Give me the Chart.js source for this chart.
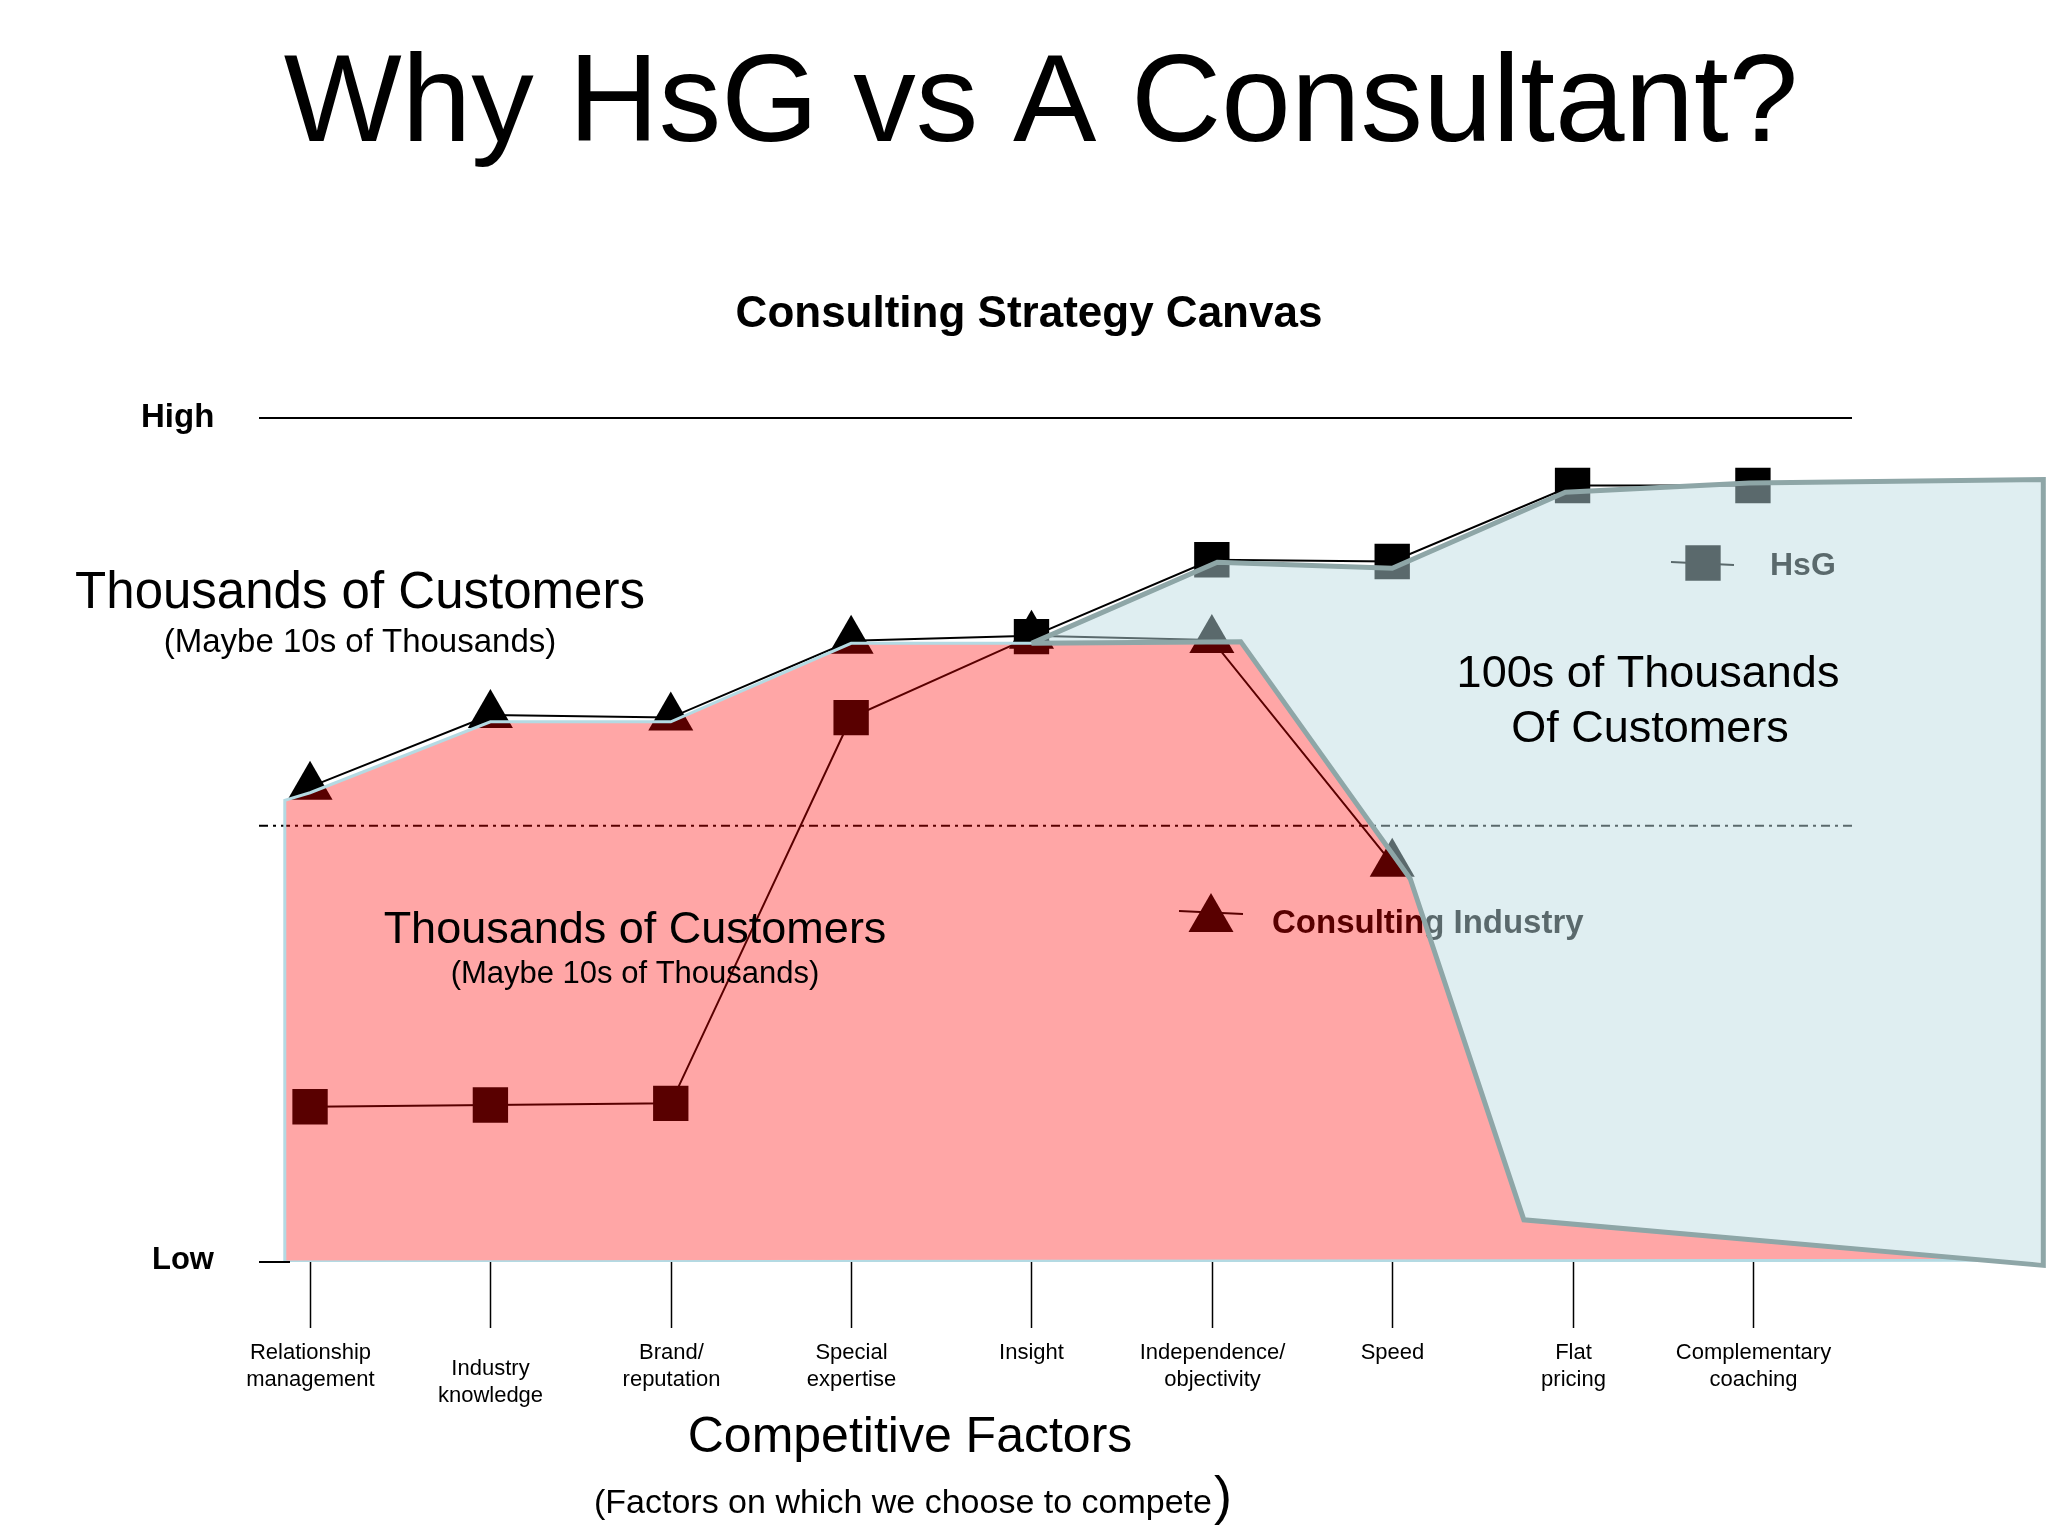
<!DOCTYPE html>
<html>
<head>
<meta charset="utf-8">
<title>Why HsG vs A Consultant?</title>
<script src="https://cdn.jsdelivr.net/npm/chart.js@4.4.0/dist/chart.umd.min.js"></script>
<style>
  html, body { margin: 0; padding: 0; background: #fff; }
  #wrap { width: 2048px; height: 1536px; }
</style>
</head>
<body>
<div id="wrap"><canvas id="canvasChart" width="2048" height="1536"></canvas></div>
<script>
// competitive factors (x axis, one per index)
const factorLabels = [
    ['Relationship', 'management'],
    ['Industry', 'knowledge'],
    ['Brand/', 'reputation'],
    ['Special', 'expertise'],
    ['Insight'],
    ['Independence/', 'objectivity'],
    ['Speed'],
    ['Flat', 'pricing'],
    ['Complementary', 'coaching']
];

// scores, 0 = Low, 10 = High
const hsgScores = [1.84, 1.86, 1.88, 6.45, 7.41, 8.32, 8.30, 9.20, 9.20];
const consultingScores = [5.63, 6.48, 6.45, 7.36, 7.42, 7.37, 4.72];

// shaded regions (x in factor index units, y in score units)
const consultingAreaX = [-0.14, -0.14, 0, 1, 2, 3, 4, 5.16, 6.10, 6.73, 9.29, -0.14];
const consultingAreaY = [0, 5.47, 5.56, 6.40, 6.40, 7.33, 7.33, 7.35, 4.54, 0.50, 0.02, 0];
const hsgAreaX = [4, 5.03, 6.0, 6.96, 7.98, 9.61, 9.61, 6.73, 6.10, 5.16, 4];
const hsgAreaY = [7.33, 8.29, 8.22, 9.12, 9.23, 9.27, -0.04, 0.50, 4.54, 7.35, 7.33];

const midLevel = 5.17;
const yLow = 0, yHigh = 10;
const xMin = -0.283, xMax = 9.636;

const FONT = "'Liberation Sans', Arial, Helvetica, sans-serif";

function toPoints(xs, ys) {
    return xs.map((x, i) => ({ x: x, y: ys[i] }));
}

function marker(ctx, style, radius, px, py) {
    if (Chart.helpers && Chart.helpers.drawPoint) {
        Chart.helpers.drawPoint(ctx, { pointStyle: style, radius: radius, rotation: 0, borderWidth: 0 }, px, py);
        return;
    }
    ctx.beginPath();
    if (style === 'triangle') {
        ctx.moveTo(px, py - radius);
        ctx.lineTo(px + radius * 0.866, py + radius / 2);
        ctx.lineTo(px - radius * 0.866, py + radius / 2);
        ctx.closePath();
    } else {
        const s = Math.SQRT1_2 * radius;
        ctx.rect(px - s, py - s, 2 * s, 2 * s);
    }
    ctx.fill();
}

function text(ctx, str, x, y, size, opts) {
    opts = opts || {};
    ctx.font = (opts.bold ? 'bold ' : '') + size + 'px ' + FONT;
    ctx.textAlign = opts.align || 'center';
    ctx.textBaseline = opts.baseline || 'alphabetic';
    ctx.fillStyle = opts.color || '#000';
    ctx.fillText(str, x, y);
}

const canvasDecor = {
    id: 'canvasDecor',
    // things that sit under the shaded areas
    beforeDatasetsDraw(chart) {
        const { ctx, scales: { y } } = chart;
        ctx.save();
        const yMid = y.getPixelForValue(midLevel);
        ctx.strokeStyle = '#000';
        ctx.lineWidth = 2;
        ctx.setLineDash([9, 5, 3, 5]);
        ctx.beginPath();
        ctx.moveTo(259, yMid);
        ctx.lineTo(1852, yMid);
        ctx.stroke();
        ctx.setLineDash([]);

        // legend keys
        ctx.lineWidth = 2;
        ctx.beginPath();
        ctx.moveTo(1179, 911);
        ctx.lineTo(1243, 914);
        ctx.moveTo(1671, 562);
        ctx.lineTo(1734, 565);
        ctx.stroke();
        ctx.fillStyle = '#000';
        marker(ctx, 'triangle', 26, 1211, 919);
        ctx.fillStyle = '#000';
        marker(ctx, 'rect', 25, 1703, 563);
        text(ctx, 'Consulting Industry', 1272, 933, 33, { bold: true, align: 'left' });
        text(ctx, 'HsG', 1770, 575, 32, { bold: true, align: 'left' });
        ctx.restore();
    },
    afterDatasetsDraw(chart) {
        const { ctx, scales: { x, y } } = chart;
        ctx.save();
        const yTop = y.getPixelForValue(yHigh);
        const yBot = y.getPixelForValue(yLow);

        // High / Low guides
        ctx.strokeStyle = '#000';
        ctx.lineWidth = 2;
        ctx.beginPath();
        ctx.moveTo(259, yTop);
        ctx.lineTo(1852, yTop);
        ctx.moveTo(259, yBot);
        ctx.lineTo(290, yBot);
        ctx.stroke();
        text(ctx, 'High', 141, yTop + 9, 33, { bold: true, align: 'left' });
        text(ctx, 'Low', 152, yBot + 7, 31, { bold: true, align: 'left' });

        // factor ticks and labels
        ctx.lineWidth = 1.5;
        factorLabels.forEach((lines, i) => {
            const px = Math.round(x.getPixelForValue(i)) + 0.5;
            ctx.beginPath();
            ctx.moveTo(px, yBot);
            ctx.lineTo(px, yBot + 66);
            ctx.stroke();
            const drop = i === 1 ? 16 : 0;
            lines.forEach((ln, k) => {
                text(ctx, ln, px, yBot + 91 + drop + k * 26.5, 22, { baseline: 'middle' });
            });
        });

        // titles and notes
        text(ctx, 'Why HsG vs A Consultant?', 1041, 141, 125);
        text(ctx, 'Consulting Strategy Canvas', 1029, 327, 44, { bold: true });
        text(ctx, 'Thousands of Customers', 360, 608, 51);
        text(ctx, '(Maybe 10s of Thousands)', 360, 652, 33);
        text(ctx, 'Thousands of Customers', 635, 943, 45);
        text(ctx, '(Maybe 10s of Thousands)', 635, 983, 31);
        text(ctx, '100s of Thousands', 1648, 687, 45);
        text(ctx, 'Of Customers', 1650, 742, 45);
        text(ctx, 'Competitive Factors', 910, 1452, 50);
        text(ctx, '(Factors on which we choose to compete', 594, 1513, 34, { align: 'left' });
        ctx.font = '34px ' + FONT;
        const w = ctx.measureText('(Factors on which we choose to compete').width;
        text(ctx, ')', 594 + w + 2, 1514, 54, { align: 'left' });
        ctx.restore();
    }
};

new Chart(document.getElementById('canvasChart'), {
    type: 'line',
    data: {
        datasets: [
            {
                label: 'HsG area',
                data: toPoints(hsgAreaX, hsgAreaY),
                fill: 'shape',
                backgroundColor: 'rgba(188, 220, 226, 0.48)',
                borderColor: '#8ea6a7',
                borderWidth: 5,
                pointRadius: 0,
                clip: false,
                order: 0
            },
            {
                label: 'Consulting area',
                data: toPoints(consultingAreaX, consultingAreaY),
                fill: 'shape',
                backgroundColor: 'rgba(255, 0, 0, 0.35)',
                borderColor: '#b4dae3',
                borderWidth: 3,
                pointRadius: 0,
                order: 1
            },
            {
                label: 'HsG',
                data: hsgScores.map((v, i) => ({ x: i, y: v })),
                borderColor: '#000',
                borderWidth: 2,
                pointStyle: 'rect',
                pointRadius: 25,
                pointBackgroundColor: '#000',
                pointBorderWidth: 0,
                fill: false,
                order: 2
            },
            {
                label: 'Consulting Industry',
                data: consultingScores.map((v, i) => ({ x: i, y: v })),
                borderColor: '#000',
                borderWidth: 2,
                pointStyle: 'triangle',
                pointRadius: 26,
                pointBackgroundColor: '#000',
                pointBorderWidth: 0,
                fill: false,
                order: 3
            }
        ]
    },
    options: {
        responsive: false,
        animation: false,
        devicePixelRatio: 1,
        layout: {
            autoPadding: false,
            padding: { left: 259, right: 0, top: 418, bottom: 274 }
        },
        elements: { line: { tension: 0 } },
        scales: {
            x: { type: 'linear', min: xMin, max: xMax, display: false },
            y: { min: yLow, max: yHigh, display: false }
        },
        plugins: {
            legend: { display: false },
            tooltip: { enabled: false }
        }
    },
    plugins: [canvasDecor]
});
</script>
</body>
</html>
